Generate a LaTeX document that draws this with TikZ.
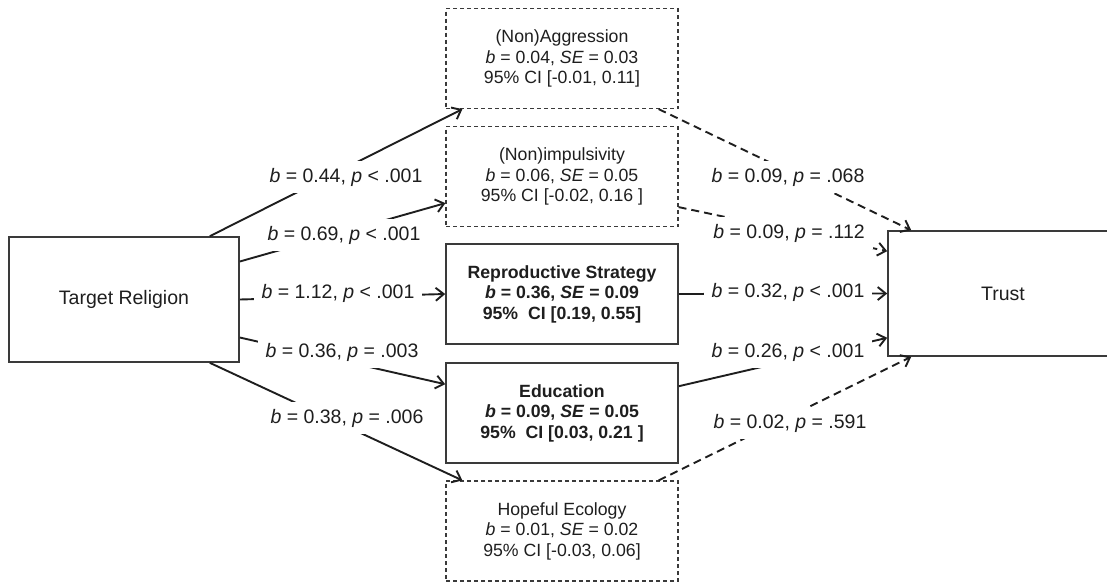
\documentclass[tikz,border=0pt]{standalone}
\usepackage{fontspec}
\setmainfont{Liberation Sans}
\usetikzlibrary{arrows.meta,calc}
\definecolor{InkGray}{RGB}{30,30,30}
\definecolor{EdgeGray}{RGB}{58,58,58}
\newcommand{\coef}[2]{\textit{b} = #1, \textit{p} #2}
\newcommand{\est}[2]{\textit{b} = #1, \textit{SE} = #2}

\begin{document}
\begin{tikzpicture}[x=1pt,y=-1pt,
  mainbox/.style={draw=EdgeGray,line width=1.6pt,text=InkGray,minimum width=230pt,
    minimum height=125pt,font=\fontsize{19.5}{23}\selectfont},
  medbox/.style={draw=EdgeGray,line width=1.6pt,text=InkGray,minimum width=232pt,
    minimum height=100pt,align=center,font=\fontsize{17.7}{20.5}\selectfont},
  weakbox/.style={medbox,line width=1.2pt,dash pattern=on 4pt off 3pt},
  sigline/.style={draw=InkGray,line width=1.9pt,-{Straight Barb[length=8pt,width=13pt]}},
  nsline/.style={sigline,dash pattern=on 8pt off 5pt},
  coeflbl/.style={fill=white,text=InkGray,inner xsep=8pt,inner ysep=7pt,
    font=\fontsize{19.5}{23}\selectfont}]
  \useasboundingbox (0,0) rectangle (1107,582);
  % predictor and outcome
  \node[mainbox] (tr) at (124,299.5) {Target Religion};
  \node[mainbox] (tu) at (1003,293.5) {Trust};
  % mediators
  \node[weakbox] (ag) at (562,58.5) {(Non)Aggression\\\est{0.04}{0.03}\\95\% CI [-0.01, 0.11]};
  \node[weakbox] (im) at (562,176.5) {(Non)impulsivity\\\est{0.06}{0.05}\\95\% CI [-0.02, 0.16 ]};
  \node[medbox] (rs) at (562,294) {\textbf{Reproductive Strategy}\\\textbf{\est{0.36}{0.09}}\\\textbf{95\%\ \ CI [0.19, 0.55]}};
  \node[medbox] (ed) at (562,413) {\textbf{Education}\\\textbf{\est{0.09}{0.05}}\\\textbf{95\%\ \ CI [0.03, 0.21 ]}};
  \node[weakbox] (ho) at (562,531) {Hopeful Ecology\\\est{0.01}{0.02}\\95\% CI [-0.03, 0.06]};
  % a paths
  \draw[sigline] ([xshift=-30pt]tr.north east) -- ([xshift=17pt]ag.south west);
  \draw[sigline] ([yshift=38pt]tr.east) -- ([yshift=24pt]im.south west);
  \draw[sigline] (tr.east) -- (rs.west);
  \draw[sigline] ([yshift=-38pt]tr.east) -- ([yshift=-22pt]ed.north west);
  \draw[sigline] ([xshift=-30pt]tr.south east) -- ([xshift=17pt]ho.north west);
  % b paths
  \draw[nsline] ([xshift=-20pt]ag.south east) -- ([xshift=24pt]tu.north west);
  \draw[nsline] ([yshift=20pt]im.south east) -- ([yshift=-21pt]tu.north west);
  \draw[sigline] (rs.east) -- (tu.west);
  \draw[sigline] ([yshift=-24pt]ed.north east) -- ([yshift=19pt]tu.south west);
  \draw[nsline] ([xshift=-20pt]ho.north east) -- ([xshift=24pt]tu.south west);
  % coefficients
  \node[coeflbl] (la1) at (346,177) {\coef{0.44}{< .001}};
  \node[coeflbl] (la2) at (344,235) {\coef{0.69}{< .001}};
  \node[coeflbl] (la3) at (338,293) {\coef{1.12}{< .001}};
  \node[coeflbl] (la4) at (342,352) {\coef{0.36}{= .003}};
  \node[coeflbl] (la5) at (347,418) {\coef{0.38}{= .006}};
  \node[coeflbl] (lb1) at (788,177) {\coef{0.09}{= .068}};
  \node[coeflbl] (lb2) at (789,233) {\coef{0.09}{= .112}};
  \node[coeflbl] (lb3) at (788,292) {\coef{0.32}{< .001}};
  \node[coeflbl] (lb4) at (788,352) {\coef{0.26}{< .001}};
  \node[coeflbl] (lb5) at (790,423) {\coef{0.02}{= .591}};
\end{tikzpicture}
\end{document}
